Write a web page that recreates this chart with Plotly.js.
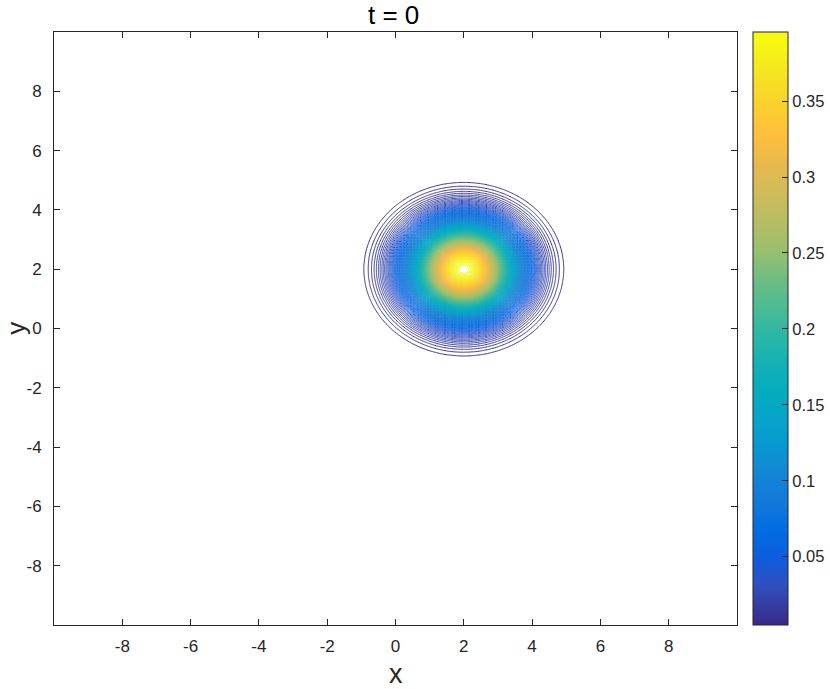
<!DOCTYPE html>
<html>
<head>
<meta charset="utf-8">
<script src="https://cdn.plot.ly/plotly-3.0.1.min.js"></script>
<style>html,body{margin:0;padding:0;background:#fff}#plot{width:830px;height:689px}</style>
</head>
<body>
<div id="plot"></div>
<script>
// ---- data ----
const titleText = "t = 0";
const xLabel = "x";
const yLabel = "y";
const xTicks = [-8, -6, -4, -2, 0, 2, 4, 6, 8];
const yTicks = [-8, -6, -4, -2, 0, 2, 4, 6, 8];
const colorbarTicks = [0.05, 0.1, 0.15, 0.2, 0.25, 0.3, 0.35];
const colorbarTickText = ["0.05", "0.1", "0.15", "0.2", "0.25", "0.3", "0.35"];
const bumpCenter = [2, 2];
const profileRadius = [0, 0.5, 1.0, 1.5, 2.0, 2.5, 3.0, 3.5, 4.0, 5.0];
const profileValue  = [0.399, 0.352, 0.242, 0.130, 0.054, 0.0175, 0.0044, 0.00087, 0.00013, 0.0000015];
const levelStart = 0.0055, levelEnd = 0.3955, levelStep = 0.0024;
const colorMin = 0.005, colorMax = 0.3955;
const axisRange = [-10, 10];

// ---- grid built from the profile ----
const gridX = [], gridY = [];
for (let i = 0; i <= 200; i++) { gridX.push(-10 + i * 0.1); gridY.push(-10 + i * 0.1); }
const r2 = profileRadius.map(r => r * r);
const lv = profileValue.map(v => Math.log(v));
function profileAt(d2) {
  if (d2 >= r2[r2.length - 1]) return 0;
  let k = 0;
  while (k < r2.length - 2 && d2 > r2[k + 1]) k++;
  const t = (d2 - r2[k]) / (r2[k + 1] - r2[k]);
  return Math.exp(lv[k] + t * (lv[k + 1] - lv[k]));
}
const zGrid = gridY.map(y => gridX.map(x => {
  const dx = x - bumpCenter[0], dy = y - bumpCenter[1];
  return profileAt(dx * dx + dy * dy);
}));

const parula = [
  [0.000, 'rgb(53,42,135)'],  [0.063, 'rgb(50,77,188)'],  [0.111, 'rgb(15,92,221)'],
  [0.159, 'rgb(2,108,225)'],  [0.206, 'rgb(18,121,218)'], [0.254, 'rgb(20,133,212)'],
  [0.302, 'rgb(8,152,209)'],  [0.349, 'rgb(6,164,202)'],  [0.397, 'rgb(6,172,190)'],
  [0.444, 'rgb(21,177,180)'], [0.492, 'rgb(46,183,164)'], [0.540, 'rgb(77,188,146)'],
  [0.587, 'rgb(113,190,128)'],[0.635, 'rgb(156,191,111)'],[0.683, 'rgb(183,189,100)'],
  [0.730, 'rgb(209,187,89)'], [0.778, 'rgb(232,185,78)'], [0.825, 'rgb(253,190,61)'],
  [0.873, 'rgb(252,206,46)'], [0.921, 'rgb(245,225,36)'], [0.968, 'rgb(245,243,22)'],
  [1.000, 'rgb(249,251,14)']
];

const fontFam = '"Liberation Sans", Arial, Helvetica, sans-serif';
const axColor = '#262626';

const contourTrace = {
  type: 'contour', x: gridX, y: gridY, z: zGrid,
  autocontour: false,
  contours: { coloring: 'lines', start: levelStart, end: levelEnd, size: levelStep, showlabels: false },
  line: { width: 1, smoothing: 0 },
  colorscale: parula, zmin: colorMin, zmax: colorMax, zauto: false,
  showscale: false, hoverinfo: 'skip'
};

const scaleTrace = {
  type: 'scatter', mode: 'markers', x: [null, null], y: [null, null],
  hoverinfo: 'skip', showlegend: false,
  marker: {
    color: [colorMin, colorMax], cmin: colorMin, cmax: colorMax, colorscale: parula,
    showscale: true,
    colorbar: {
      x: 1.0234, xanchor: 'left', xpad: 0, y: 0.5, yanchor: 'middle', ypad: 0,
      len: 1, lenmode: 'fraction', thickness: 35, thicknessmode: 'pixels',
      outlinewidth: 1, outlinecolor: axColor,
      ticks: 'inside', ticklen: 6, tickcolor: axColor, tickwidth: 1,
      ticklabelstandoff: 3,
      tickvals: colorbarTicks, ticktext: colorbarTickText,
      tickfont: { family: fontFam, size: 16.5, color: axColor }
    }
  }
};

const layout = {
  width: 830, height: 689,
  margin: { l: 54, r: 93, t: 32, b: 64, pad: 0, autoexpand: false },
  paper_bgcolor: '#fff', plot_bgcolor: '#fff',
  showlegend: false,
  xaxis: {
    range: axisRange, tickvals: xTicks, ticktext: xTicks.map(String),
    ticks: 'inside', ticklen: 6, tickcolor: axColor, tickwidth: 1,
    showline: true, linecolor: axColor, linewidth: 1, mirror: 'ticks',
    showgrid: false, zeroline: false, ticklabelstandoff: 6,
    tickfont: { family: fontFam, size: 17, color: axColor }
  },
  yaxis: {
    range: axisRange, tickvals: yTicks, ticktext: yTicks.map(String),
    ticks: 'inside', ticklen: 6, tickcolor: axColor, tickwidth: 1,
    showline: true, linecolor: axColor, linewidth: 1, mirror: 'ticks',
    showgrid: false, zeroline: false, ticklabelstandoff: 8,
    tickfont: { family: fontFam, size: 17, color: axColor }
  },
  annotations: [
    { text: titleText, xref: 'paper', yref: 'paper', x: 0.497, y: 1.029, xanchor: 'center', yanchor: 'middle',
      showarrow: false, borderpad: 0, font: { family: fontFam, size: 26, color: '#000' } },
    { text: xLabel, xref: 'paper', yref: 'paper', x: 0.5, y: -0.083, xanchor: 'center', yanchor: 'middle',
      showarrow: false, borderpad: 0, font: { family: fontFam, size: 27, color: axColor } },
    { text: yLabel, xref: 'paper', yref: 'paper', x: -0.0566, y: 0.5, xanchor: 'center', yanchor: 'middle',
      textangle: -90, showarrow: false, borderpad: 0, font: { family: fontFam, size: 26, color: axColor } }
  ]
};

Plotly.newPlot('plot', [contourTrace, scaleTrace], layout, { staticPlot: true, displayModeBar: false });
</script>
</body>
</html>
